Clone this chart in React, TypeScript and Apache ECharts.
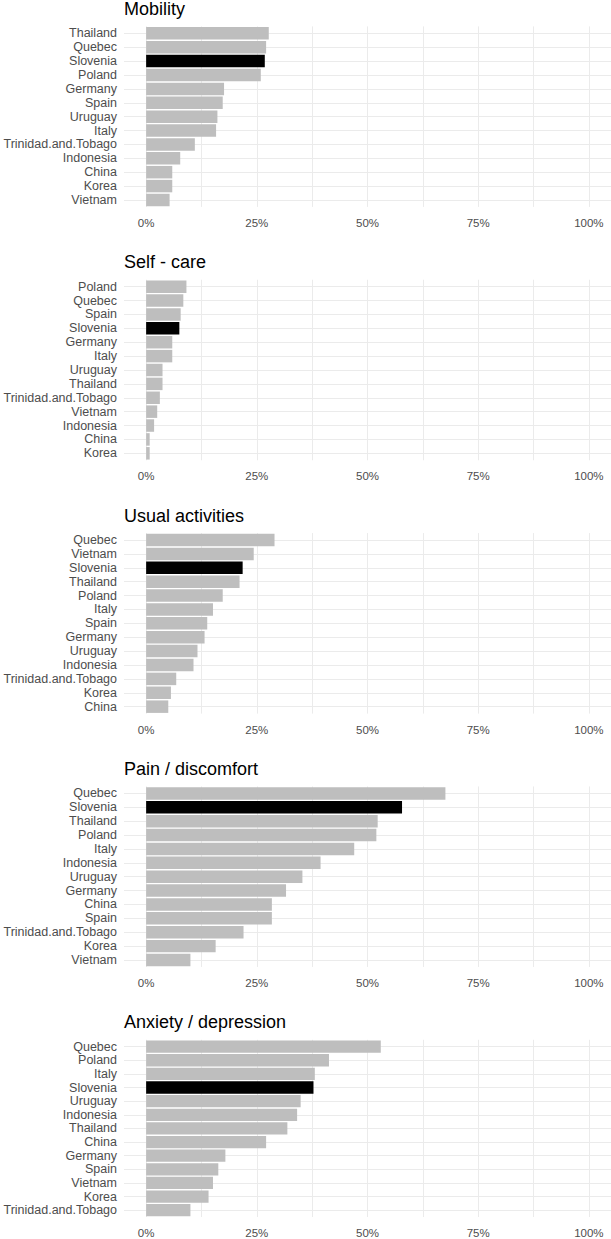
import React, { useEffect, useRef } from "react";
import * as echarts from "echarts";

const panelTitles = [
  "Mobility",
  "Self - care",
  "Usual activities",
  "Pain / discomfort",
  "Anxiety / depression",
];

const mobilityCountries = [
  "Thailand", "Quebec", "Slovenia", "Poland", "Germany", "Spain", "Uruguay",
  "Italy", "Trinidad.and.Tobago", "Indonesia", "China", "Korea", "Vietnam",
];
const mobilityValues = [27.7, 27.1, 26.8, 25.9, 17.6, 17.3, 16.1, 15.8, 11.0, 7.7, 5.9, 5.9, 5.3];

const selfCareCountries = [
  "Poland", "Quebec", "Spain", "Slovenia", "Germany", "Italy", "Uruguay",
  "Thailand", "Trinidad.and.Tobago", "Vietnam", "Indonesia", "China", "Korea",
];
const selfCareValues = [9.1, 8.4, 7.8, 7.5, 5.9, 5.9, 3.7, 3.7, 3.1, 2.5, 1.8, 0.8, 0.8];

const usualCountries = [
  "Quebec", "Vietnam", "Slovenia", "Thailand", "Poland", "Italy", "Spain",
  "Germany", "Uruguay", "Indonesia", "Trinidad.and.Tobago", "Korea", "China",
];
const usualValues = [29.0, 24.3, 21.8, 21.1, 17.3, 15.1, 13.8, 13.2, 11.6, 10.7, 6.8, 5.6, 5.0];

const painCountries = [
  "Quebec", "Slovenia", "Thailand", "Poland", "Italy", "Indonesia", "Uruguay",
  "Germany", "China", "Spain", "Trinidad.and.Tobago", "Korea", "Vietnam",
];
const painValues = [67.6, 57.8, 52.3, 52.0, 47.0, 39.4, 35.3, 31.6, 28.4, 28.4, 22.0, 15.7, 10.0];

const anxietyCountries = [
  "Quebec", "Poland", "Italy", "Slovenia", "Uruguay", "Indonesia", "Thailand",
  "China", "Germany", "Spain", "Vietnam", "Korea", "Trinidad.and.Tobago",
];
const anxietyValues = [53.0, 41.3, 38.1, 37.8, 34.9, 34.1, 31.9, 27.1, 17.9, 16.3, 15.1, 14.1, 10.0];

const xTickValues = [0, 25, 50, 75, 100];
const xGridValues = [0, 12.5, 25, 37.5, 50, 62.5, 75, 87.5, 100];
const highlightCountry = "Slovenia";

const panelCountries = [mobilityCountries, selfCareCountries, usualCountries, painCountries, anxietyCountries];
const panelValues = [mobilityValues, selfCareValues, usualValues, painValues, anxietyValues];

const FONT = "'Liberation Sans', Arial, Helvetica, sans-serif";

export default function App() {
  const ref = useRef<HTMLDivElement>(null);

  useEffect(() => {
    if (!ref.current) return;
    const chart = echarts.init(ref.current, undefined, { renderer: "svg" });

    const step = 253.35;
    const gridTop0 = 26.4;
    const gridHeight = 180.5;

    const grids: any[] = [];
    const xAxes: any[] = [];
    const yAxes: any[] = [];
    const series: any[] = [];
    const graphics: any[] = [];

    panelTitles.forEach((title, i) => {
      const top = gridTop0 + step * i;
      const cats = panelCountries[i];
      const vals = panelValues[i];
      grids.push({ left: 124, width: 487, top, height: gridHeight });
      xAxes.push({
        gridIndex: i,
        type: "value",
        min: -5,
        max: 105,
        axisLine: { show: false },
        axisTick: { show: false },
        splitLine: { show: false },
        axisLabel: {
          customValues: xTickValues,
          formatter: (v: number) => `${v}%`,
          color: "#4d4d4d",
          fontSize: 11.5,
          fontFamily: FONT,
          margin: 10,
        },
      });
      yAxes.push({
        gridIndex: i,
        type: "category",
        data: cats,
        inverse: true,
        axisLine: { show: false },
        axisTick: { show: false },
        splitLine: { show: false },
        axisLabel: {
          interval: 0,
          color: "#4d4d4d",
          fontSize: 12.5,
          fontFamily: FONT,
          margin: 7,
        },
      });
      series.push({
        type: "bar",
        xAxisIndex: i,
        yAxisIndex: i,
        barCategoryGap: "10%",
        z: 10,
        silent: true,
        emphasis: { disabled: true },
        data: vals.map((v, j) => ({
          value: v,
          itemStyle: { color: cats[j] === highlightCountry ? "#000000" : "#BEBEBE" },
        })),
        markLine: {
          silent: true,
          z: 1,
          symbol: ["none", "none"],
          label: { show: false },
          emphasis: { disabled: true },
          lineStyle: { color: "#EBEBEB", width: 1, type: "solid" },
          data: [
            ...xGridValues.map((v) => ({ xAxis: v })),
            ...cats.map((c) => ({ yAxis: c })),
          ],
        },
      });
      graphics.push({
        type: "text",
        x: 124,
        y: top - 17.4,
        style: {
          text: title,
          fontSize: 18,
          fontFamily: FONT,
          fill: "#000000",
          verticalAlign: "middle",
          align: "left",
        },
      });
    });

    chart.setOption({
      animation: false,
      backgroundColor: "#ffffff",
      grid: grids,
      xAxis: xAxes,
      yAxis: yAxes,
      series,
      graphic: graphics,
    });

    return () => chart.dispose();
  }, []);

  return (
    <div
      ref={ref}
      style={{ position: "absolute", left: 0, top: 0, width: 611, height: 1239 }}
    />
  );
}
